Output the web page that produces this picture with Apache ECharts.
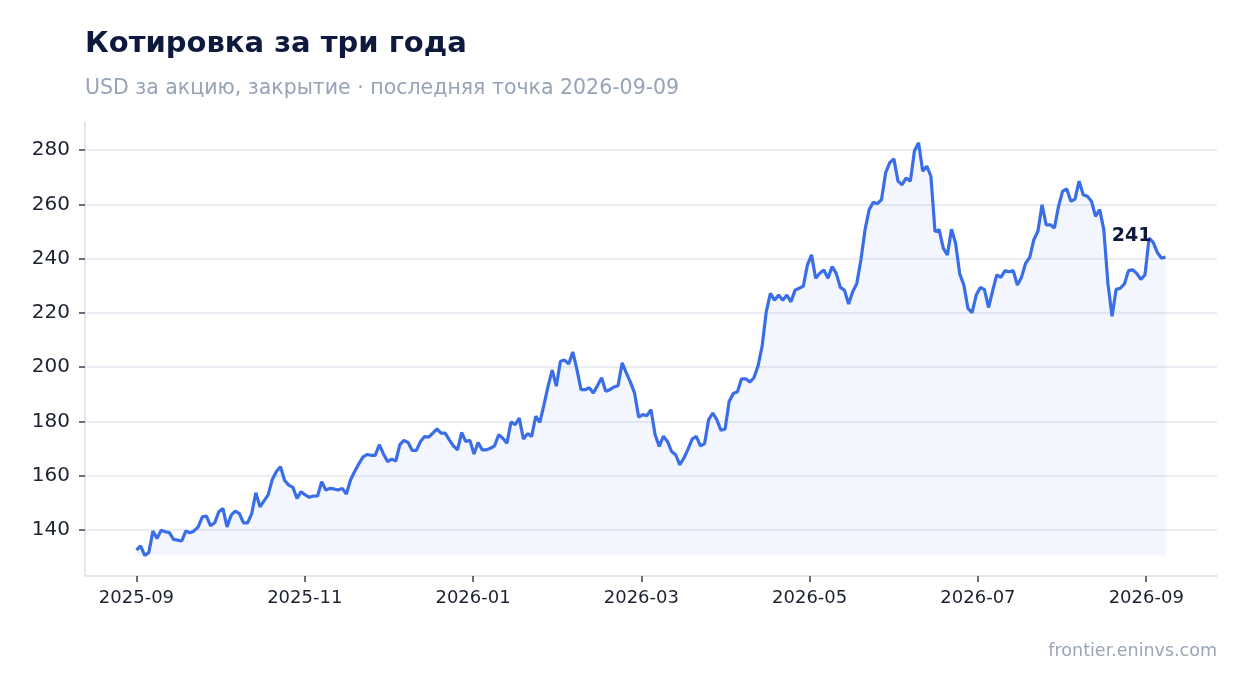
<!DOCTYPE html>
<html>
<head>
<meta charset="utf-8">
<title>Котировка за три года</title>
<script src="https://cdn.jsdelivr.net/npm/echarts@6/dist/echarts.min.js"></script>
<style>
  html, body { margin: 0; padding: 0; background: #ffffff; }
  #main { width: 1247px; height: 693px; }
</style>
</head>
<body>
<div id="main"></div>
<script>
// closing prices, first point 2025-09-01, last 2026-09-09
var firstDay = '2025-09-01';
var lastDay = '2026-09-09';

var closesAutumn = [
    132.5, 134.1, 130.6, 131.6, 139.6, 136.8, 139.9, 139.3, 139.0, 136.5,
    136.2, 135.9, 139.6, 138.9, 139.6, 141.1, 144.8, 145.1, 141.5, 142.6,
    146.7, 147.9, 141.1, 145.4, 146.9, 146.0, 142.6, 142.6, 146.0, 153.7,
    148.5, 150.7, 152.9, 158.6, 161.5, 163.3, 158.2, 156.5, 155.7, 151.6,
    154.1, 152.9, 152.0, 152.5, 152.5, 157.8, 154.7, 155.3, 155.1, 154.7,
    155.3, 153.2, 158.4, 161.5, 164.3, 166.8, 167.8, 167.5, 167.5, 171.4,
    168.0, 165.2, 166.1, 165.4, 171.4, 173.0, 172.2, 169.3, 169.3, 172.6,
    174.4, 174.2, 175.7, 177.2, 175.7, 175.7, 173.2, 171.0, 169.5, 175.9,
    172.6, 173.0, 168.0, 172.2
];
var closesWinter = [
    169.5, 169.5, 170.1, 171.0, 175.1, 173.8, 172.0, 179.8, 178.8, 181.2,
    173.5, 175.5, 174.5, 181.9, 179.6, 186.2, 193.0, 198.9, 193.0, 202.2,
    202.6, 201.2, 205.6, 199.2, 191.7, 191.7, 192.4, 190.5, 193.2, 196.1,
    191.1, 191.7, 192.7, 193.2, 201.6, 197.9, 194.5, 190.5, 181.6, 182.5,
    182.1, 184.3, 175.1, 170.8, 174.5, 172.6, 168.9, 167.7, 164.0, 166.5,
    169.8, 173.5, 174.5, 171.0, 171.7, 180.6, 183.1, 180.6, 176.7, 177.2,
    187.4, 190.3, 190.9, 195.7, 195.7, 194.5, 196.1, 200.4, 207.8
];
var closesSpring = [
    220.4, 227.2, 224.7, 226.6, 224.7, 226.6, 224.1, 228.4, 229.1, 229.9,
    237.7, 241.4, 232.8, 234.6, 235.8, 232.8, 237.1, 234.6, 229.4, 228.4,
    223.3, 227.8, 230.9, 239.6, 250.7, 258.1, 260.8, 260.3, 261.8, 271.7,
    275.4, 276.8, 268.6, 267.3, 269.8, 268.6, 279.7, 282.8, 272.3, 274.1,
    270.4, 250.0, 250.7, 243.9, 241.4, 250.9, 245.7, 234.4, 230.3
];
var closesSummer = [
    221.7, 220.1, 226.6, 229.4, 228.7, 222.0, 228.2, 234.0, 233.1, 235.6,
    235.2, 235.6, 230.3, 233.1, 238.3, 240.5, 247.0, 250.1, 259.9, 252.5,
    252.5, 251.3, 259.3, 264.9, 265.7, 261.2, 262.0, 268.6, 263.6, 263.0,
    261.2, 255.6, 258.1, 250.7, 230.9, 218.8, 228.7, 229.1, 230.7, 235.6,
    235.9, 234.6, 232.4, 234.0, 247.6, 246.0, 242.3, 240.2, 240.6
];

var yTicks = [140, 160, 180, 200, 220, 240, 260, 280];
// x ticks sit every 61 days, labelled by month
var tickDates = ['2025-09-01', '2025-11-01', '2026-01-01', '2026-03-03', '2026-05-03', '2026-07-03', '2026-09-02'];

var closes = closesAutumn.concat(closesWinter, closesSpring, closesSummer);

// dates spread over the span of the picture
var t0 = new Date(firstDay).getTime();
var t1 = new Date(lastDay).getTime();
var dates = closes.map(function (v, i) {
    return t0 + (t1 - t0) * i / (closes.length - 1);
});
var tickStamps = tickDates.map(function (d) { return new Date(d).getTime(); });

var lo = Math.min.apply(null, closes);
var hi = Math.max.apply(null, closes);
var last = closes[closes.length - 1];
var pad = function (n) { return n < 10 ? '0' + n : '' + n; };

var chart = echarts.init(document.getElementById('main'));
var font = 'DejaVu Sans';
var option = {
    backgroundColor: '#ffffff',
    animation: false,
    title: [{
        text: 'Котировка за три года',
        left: 85,
        top: 30,
        padding: 0,
        textStyle: { fontSize: 29, fontWeight: 'bold', color: '#0e1a3d', fontFamily: font }
    }, {
        text: 'USD за акцию, закрытие · последняя точка 2026-09-09',
        left: 85,
        top: 78,
        padding: 0,
        textStyle: { fontSize: 20.5, fontWeight: 'normal', color: '#97a3b6', fontFamily: font }
    }],
    graphic: [{
        type: 'text',
        right: 30,
        top: 642,
        style: { text: 'frontier.eninvs.com', fontSize: 17.5, fill: '#9aa5b8', fontFamily: font }
    }],
    grid: { left: 85, right: 30, top: 122, bottom: 117, containLabel: false },
    xAxis: {
        type: 'value',
        scale: true,
        min: function () { return t0 - (t1 - t0) * 0.05; },
        max: function () { return t1 + (t1 - t0) * 0.05; },
        axisLine: { show: true, lineStyle: { color: '#e3e7ef', width: 2 } },
        axisTick: {
            show: true, length: 6, lineStyle: { color: '#3a3f4b', width: 1.5 },
            customValues: tickStamps
        },
        axisLabel: {
            fontSize: 18, color: '#1c2230', fontFamily: font, margin: 13,
            customValues: tickStamps,
            formatter: function (v) {
                var d = new Date(v);
                return d.getUTCFullYear() + '-' + pad(d.getUTCMonth() + 1);
            }
        },
        splitLine: { show: false }
    },
    yAxis: {
        type: 'value',
        scale: true,
        min: function () { return lo - (hi - lo) * 0.05; },
        max: function () { return hi + (hi - lo) * 0.05; },
        axisLine: { show: true, lineStyle: { color: '#e3e7ef', width: 2 } },
        axisTick: {
            show: true, length: 6, lineStyle: { color: '#3a3f4b', width: 1.5 },
            customValues: yTicks
        },
        axisLabel: {
            fontSize: 20, color: '#1c2230', fontFamily: font, margin: 15,
            customValues: yTicks
        },
        splitLine: { show: true, lineStyle: { color: '#e3e7ef', width: 1.5 } }
    },
    series: [{
        type: 'line',
        data: closes.map(function (v, i) { return [dates[i], v]; }),
        showSymbol: false,
        symbol: 'none',
        lineStyle: { color: '#3a6ee8', width: 3.2 },
        itemStyle: { color: '#3a6ee8' },
        areaStyle: { color: 'rgba(58,110,232,0.09)', origin: lo },
        markPoint: {
            symbol: 'circle',
            symbolSize: 0,
            silent: true,
            data: [{ coord: [t1, last], value: Math.round(last) }],
            label: {
                show: true,
                position: 'top',
                offset: [-34, -7],
                formatter: '{c}',
                fontSize: 19,
                fontWeight: 'bold',
                color: '#0e1a3d',
                fontFamily: font
            }
        },
        z: 3
    }]
};
chart.setOption(option);
</script>
</body>
</html>
